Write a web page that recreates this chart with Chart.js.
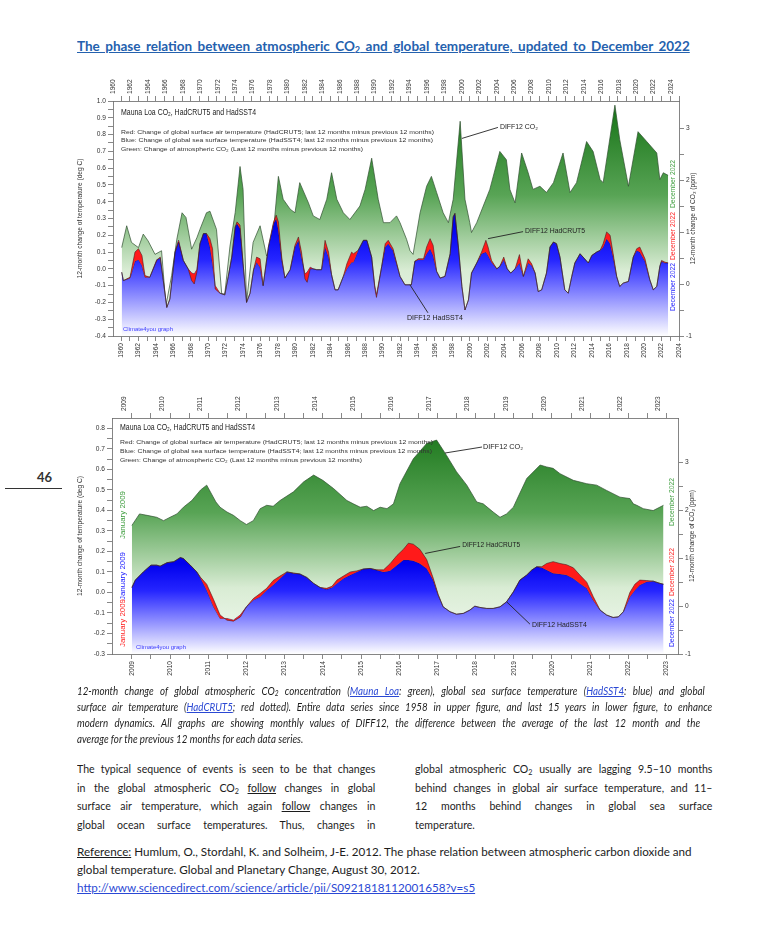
<!DOCTYPE html>
<html lang="en">
<head>
<meta charset="utf-8">
<title>Phase relation between atmospheric CO2 and global temperature</title>
<script src="https://cdn.jsdelivr.net/npm/chart.js@4.4.1/dist/chart.umd.min.js"></script>
<style>
  html, body { margin: 0; padding: 0; background: #fff; }
  body { position: relative; width: 760px; height: 937px; overflow: hidden; font-family: Lato, "Open Sans", sans-serif; color: #1c1c1c; }
  canvas { position: absolute; }
  .ln { position: absolute; white-space: nowrap; transform-origin: 0 0; }
  .j { text-align: justify; text-align-last: justify; }
  .title { font-weight: 700; font-size: 14px; line-height: 18px; color: #2461ae; text-decoration: underline; transform: scaleX(0.965); }
  .cap { font-style: italic; font-size: 10.5px; line-height: 14px; transform: scaleX(0.93); }
  .txt { font-size: 12px; line-height: 16px; transform: scaleX(0.88); }
  .ref { font-size: 12px; line-height: 16px; transform: scaleX(0.97); }
  .lk { color: #2a48d4; text-decoration: underline; }
  .u { text-decoration: underline; }
  sub { font-size: 0.68em; vertical-align: -0.2em; line-height: 0; }
</style>
</head>
<body>

<div class="ln title j" style="left:77px;top:37px;width:635px">The phase relation between atmospheric CO<sub>2</sub> and global temperature, updated to December 2022</div>

<canvas id="topChart" width="628" height="306" style="left:72px;top:66px"></canvas>
<canvas id="lowChart" width="628" height="306" style="left:72px;top:383px"></canvas>

<div class="ln" style="left:37px;top:469px;font-weight:700;font-size:13px;color:#333">46</div>
<div style="position:absolute;left:5px;top:488px;width:57px;height:1px;background:#333"></div>

<div class="ln cap j" style="left:77px;top:684px;width:675px">12-month change of global atmospheric CO<sub>2</sub> concentration (<span class="lk">Mauna Loa</span>: green), global sea surface temperature (<span class="lk">HadSST4</span>: blue) and global</div>
<div class="ln cap j" style="left:77px;top:700px;width:683px">surface air temperature (<span class="lk">HadCRUT5</span>; red dotted). Entire data series since 1958 in upper figure, and last 15 years in lower figure, to enhance</div>
<div class="ln cap j" style="left:77px;top:716px;width:670px">modern dynamics. All graphs are showing monthly values of DIFF12, the difference between the average of the last 12 month and the</div>
<div class="ln cap" style="left:77px;top:732px">average for the previous 12 months for each data series.</div>

<div class="ln txt j" style="left:77px;top:761px;width:339px">The typical sequence of events is seen to be that changes</div>
<div class="ln txt j" style="left:77px;top:780px;width:339px">in the global atmospheric CO<sub>2</sub> <span class="u">follow</span> changes in global</div>
<div class="ln txt j" style="left:77px;top:798px;width:339px">surface air temperature, which again <span class="u">follow</span> changes in</div>
<div class="ln txt j" style="left:77px;top:817px;width:339px">global ocean surface temperatures. Thus, changes in</div>

<div class="ln txt j" style="left:415px;top:761px;width:338px">global atmospheric CO<sub>2</sub> usually are lagging 9.5–10 months</div>
<div class="ln txt j" style="left:415px;top:780px;width:338px">behind changes in global air surface temperature, and 11–</div>
<div class="ln txt j" style="left:415px;top:798px;width:338px">12 months behind changes in global sea surface</div>
<div class="ln txt" style="left:415px;top:817px">temperature.</div>

<div class="ln ref" style="left:77px;top:844px"><span class="u">Reference:</span> Humlum, O., Stordahl, K. and Solheim, J-E. 2012. The phase relation between atmospheric carbon dioxide and</div>
<div class="ln ref" style="left:77px;top:862px">global temperature. Global and Planetary Change, August 30, 2012.</div>
<div class="ln ref" style="left:77px;top:880px"><span class="lk">http://www.sciencedirect.com/science/article/pii/S0921818112001658?v=s5</span></div>

<script>
// ---- upper figure: 1960-2022 ----
const topYears = [
  1960.08, 1960.27, 1961.03, 1961.6, 1962.0, 1962.4, 1962.75, 1963.3, 1964.1, 1964.5,
  1964.85, 1965.25, 1965.6, 1966.2, 1966.6, 1967.15, 1967.7, 1968.1, 1968.4, 1968.7,
  1969.05, 1969.45, 1969.8, 1970.2, 1970.5, 1970.8, 1971.35, 1971.9, 1972.3, 1972.7,
  1973.1, 1973.3, 1973.65, 1974.0, 1974.4, 1974.8, 1975.2, 1975.55, 1975.95, 1976.3,
  1976.9, 1977.5, 1977.8, 1978.05, 1978.45, 1978.8, 1979.4, 1979.95, 1980.35, 1980.7,
  1981.1, 1981.35, 1981.7, 1982.05, 1982.45, 1983.0, 1983.4, 1983.8, 1984.15, 1984.55,
  1984.9, 1985.5, 1985.9, 1986.45, 1986.65, 1987.2, 1987.8, 1988.2, 1988.75, 1989.1,
  1989.3, 1989.9, 1990.3, 1990.65, 1991.2, 1992.0, 1992.57, 1993.3, 1993.7, 1994.1,
  1994.7, 1995.05, 1995.45, 1995.8, 1996.2, 1996.6, 1997.15, 1997.75, 1998.1, 1998.3,
  1998.7, 1999.1, 1999.45, 1999.85, 2000.2, 2000.8, 2001.35, 2001.85, 2002.1, 2002.5,
  2003.1, 2003.45, 2003.9, 2004.3, 2004.7, 2005.2, 2005.7, 2006.15, 2006.7, 2007.1,
  2007.5, 2007.85, 2008.25, 2008.8, 2009.2, 2009.6, 2009.95, 2010.35, 2010.9, 2011.3,
  2011.7, 2012.05, 2012.65, 2013.0, 2013.6, 2014.0, 2014.55, 2014.95, 2015.3, 2015.7,
  2016.1, 2016.45, 2016.85, 2017.2, 2017.6, 2018.2, 2018.75, 2019.15, 2019.5, 2020.1,
  2020.65, 2021.05, 2021.45, 2021.8, 2022.0, 2022.4, 2022.75
];
const topSst = [
  -0.02, -0.07, -0.055, 0.045, 0.055, 0.02, -0.05, -0.05, 0.055, 0.065,
  -0.07, -0.23, -0.18, 0.10, 0.17, 0.05, 0.0, -0.025, -0.03, -0.005,
  0.15, 0.21, 0.21, 0.13, 0.03, -0.10, -0.145, -0.155, -0.045, 0.07,
  0.25, 0.27, 0.24, 0.03, -0.20, -0.145, -0.005, 0.04, 0.01, -0.10,
  0.13, 0.27, 0.30, 0.23, 0.05, -0.055, -0.005, 0.13, 0.17, 0.07,
  -0.03, -0.02, 0.01, 0.0, -0.005, -0.005, 0.13, 0.07, -0.035, -0.125,
  -0.125, -0.045, 0.0, 0.04, 0.04, 0.11, 0.17, 0.17, 0.07, -0.10,
  -0.155, 0.015, 0.13, 0.15, 0.11, -0.045, -0.095, -0.095, 0.045, 0.055,
  0.055, 0.09, 0.12, 0.08, -0.015, -0.055, -0.045, 0.09, 0.31, 0.33,
  0.13, -0.105, -0.245, -0.185, -0.025, 0.035, 0.09, 0.10, 0.08, 0.04,
  0.0, 0.015, 0.055, 0.0, -0.025, 0.0, 0.035, -0.045, 0.035, 0.02,
  -0.025, -0.135, -0.125, -0.025, 0.13, 0.16, 0.15, 0.07, -0.125, -0.145,
  -0.045, 0.035, 0.09, 0.07, 0.035, 0.08, 0.10, 0.11, 0.13, 0.18,
  0.15, 0.07, -0.045, -0.105, -0.085, -0.075, 0.07, 0.11, 0.10, 0.045,
  -0.065, -0.125, -0.105, 0.015, 0.045, 0.035, 0.035
];
const topHadcrut = [
  -0.02, -0.07, -0.05, 0.10, 0.12, 0.08, -0.04, -0.05, 0.05, 0.07,
  -0.07, -0.23, -0.18, 0.10, 0.16, 0.05, 0.0, -0.07, -0.09, -0.02,
  0.15, 0.21, 0.21, 0.18, 0.12, -0.12, -0.145, -0.155, -0.045, 0.07,
  0.25, 0.28, 0.26, 0.03, -0.20, -0.145, -0.005, 0.07, 0.06, -0.10,
  0.13, 0.28, 0.32, 0.28, 0.06, -0.055, -0.005, 0.14, 0.19, 0.10,
  -0.06, -0.08, 0.0, 0.0, -0.005, -0.005, 0.17, 0.10, -0.035, -0.125,
  -0.125, -0.045, 0.03, 0.10, 0.09, 0.11, 0.17, 0.17, 0.07, -0.11,
  -0.17, 0.015, 0.15, 0.17, 0.12, -0.045, -0.095, -0.095, 0.045, 0.06,
  0.06, 0.13, 0.18, 0.14, -0.015, -0.055, -0.045, 0.09, 0.31, 0.33,
  0.13, -0.105, -0.245, -0.185, -0.025, 0.035, 0.10, 0.17, 0.13, 0.05,
  0.0, 0.015, 0.07, 0.0, -0.025, 0.0, 0.085, -0.045, 0.06, 0.03,
  -0.025, -0.135, -0.125, -0.025, 0.13, 0.16, 0.15, 0.07, -0.125, -0.145,
  -0.045, 0.035, 0.09, 0.07, 0.035, 0.08, 0.10, 0.11, 0.15, 0.22,
  0.20, 0.09, -0.045, -0.105, -0.085, -0.075, 0.07, 0.12, 0.13, 0.06,
  -0.065, -0.125, -0.105, 0.015, 0.05, 0.04, 0.035
];
const topCo2Years = [
  1960.08, 1960.65, 1961.2, 1962.0, 1962.55, 1963.1, 1963.9, 1964.65, 1965.15, 1965.8,
  1966.4, 1967.0, 1967.45, 1968.1, 1968.7, 1969.05, 1969.8, 1970.2, 1970.95, 1971.55,
  1971.9, 1972.5, 1973.1, 1973.65, 1974.0, 1974.4, 1975.15, 1975.95, 1976.7, 1977.3,
  1978.05, 1978.6, 1979.4, 1979.95, 1980.5, 1981.5, 1982.05, 1982.8, 1983.6, 1984.15,
  1984.75, 1985.5, 1986.25, 1987.4, 1988.0, 1988.75, 1989.5, 1990.1, 1990.85, 1991.6,
  1992.0, 1992.75, 1993.15, 1993.5, 1994.3, 1995.05, 1995.6, 1996.2, 1996.95, 1997.55,
  1998.1, 1998.9, 1999.45, 2000.0, 2000.2, 2000.8, 2001.55, 2002.3, 2003.45, 2004.2,
  2004.6, 2005.2, 2005.95, 2006.7, 2007.25, 2008.05, 2008.8, 2009.6, 2010.7, 2011.5,
  2012.25, 2013.4, 2014.15, 2014.95, 2015.3, 2016.65, 2017.2, 2018.2, 2019.3, 2020.3,
  2021.45, 2021.8, 2022.2, 2022.75
];
const topCo2 = [
  0.70, 1.12, 0.80, 0.70, 0.96, 0.83, 0.57, 0.64, -0.42, 0.16,
  0.86, 1.37, 1.28, 0.67, 0.89, 1.05, 1.37, 1.40, 1.05, -0.19,
  -0.19, 0.73, 1.38, 2.26, 1.82, -0.35, 0.80, 1.12, 0.54, 0.67,
  2.07, 1.63, 1.44, 1.37, 1.95, 1.56, 1.31, 1.24, 1.63, 2.14,
  1.63, 1.37, 1.24, 1.50, 1.82, 2.42, 1.63, 1.18, 1.18, 1.31,
  1.18, 0.86, 0.64, 0.57, 1.37, 1.88, 2.07, 1.76, 1.37, 1.18,
  1.63, 3.13, 1.63, 1.18, 0.99, 1.18, 1.50, 1.82, 2.55, 2.39,
  1.82, 1.56, 2.52, 2.14, 1.82, 1.88, 1.76, 1.95, 2.52, 1.76,
  1.95, 2.74, 2.55, 2.01, 1.95, 3.44, 2.78, 1.88, 2.93, 2.74,
  2.52, 2.01, 2.14, 2.09
];

// ---- lower figure: 2009-2022 ----
const lowYears = [
  2009.0, 2009.09, 2009.3, 2009.5, 2009.65, 2009.74, 2009.92, 2010.1, 2010.27, 2010.35,
  2010.53, 2010.7, 2010.79, 2010.96, 2011.14, 2011.31, 2011.49, 2011.66, 2011.84, 2012.0,
  2012.18, 2012.36, 2012.53, 2012.7, 2012.88, 2013.06, 2013.23, 2013.4, 2013.58, 2013.76,
  2013.93, 2014.1, 2014.24, 2014.37, 2014.54, 2014.72, 2014.89, 2015.06, 2015.24, 2015.41,
  2015.59, 2015.76, 2015.94, 2016.11, 2016.24, 2016.37, 2016.54, 2016.72, 2016.89, 2017.02,
  2017.15, 2017.33, 2017.5, 2017.68, 2017.85, 2017.98, 2018.11, 2018.29, 2018.46, 2018.64,
  2018.81, 2018.99, 2019.16, 2019.34, 2019.47, 2019.6, 2019.73, 2019.86, 2020.03, 2020.21,
  2020.38, 2020.56, 2020.73, 2020.91, 2021.08, 2021.26, 2021.43, 2021.6, 2021.74, 2021.87,
  2022.04, 2022.17, 2022.3, 2022.48, 2022.65, 2022.83, 2022.92
];
const lowSst = [
  0.024, 0.06, 0.10, 0.133, 0.133, 0.128, 0.145, 0.15, 0.17, 0.165,
  0.133, 0.10, 0.073, 0.011, -0.07, -0.127, -0.127, -0.135, -0.11, -0.07,
  -0.037, -0.021, 0.011, 0.036, 0.068, 0.10, 0.093, 0.09, 0.073, 0.044,
  0.024, 0.015, 0.024, 0.044, 0.068, 0.085, 0.10, 0.114, 0.117, 0.109,
  0.10, 0.106, 0.133, 0.158, 0.158, 0.154, 0.141, 0.117, 0.06, -0.013,
  -0.07, -0.094, -0.106, -0.102, -0.086, -0.067, -0.073, -0.078, -0.078, -0.07,
  -0.046, 0.003, 0.06, 0.085, 0.109, 0.125, 0.122, 0.109, 0.093, 0.09,
  0.085, 0.068, 0.044, 0.02, -0.037, -0.086, -0.11, -0.122, -0.119, -0.094,
  -0.021, 0.011, 0.036, 0.052, 0.055, 0.044, 0.04
];
const lowHadcrut = [
  0.024, 0.06, 0.10, 0.133, 0.133, 0.128, 0.145, 0.15, 0.17, 0.165,
  0.133, 0.10, 0.075, 0.04, -0.035, -0.11, -0.135, -0.14, -0.12, -0.07,
  -0.03, -0.005, 0.02, 0.058, 0.08, 0.10, 0.095, 0.09, 0.073, 0.044,
  0.024, 0.02, 0.03, 0.06, 0.08, 0.10, 0.105, 0.114, 0.117, 0.11,
  0.11, 0.14, 0.18, 0.21, 0.24, 0.235, 0.21, 0.16, 0.07, -0.01,
  -0.07, -0.094, -0.106, -0.102, -0.086, -0.067, -0.073, -0.078, -0.078, -0.07,
  -0.046, 0.003, 0.06, 0.085, 0.109, 0.125, 0.125, 0.141, 0.15, 0.141,
  0.135, 0.12, 0.085, 0.05, -0.02, -0.086, -0.11, -0.122, -0.119, -0.094,
  0.0, 0.04, 0.06, 0.058, 0.055, 0.044, 0.04
];
const lowCo2Years = [
  2009.0, 2009.2, 2009.4, 2009.65, 2009.83, 2010.0, 2010.18, 2010.35, 2010.57, 2010.8,
  2010.96, 2011.2, 2011.31, 2011.49, 2011.66, 2011.84, 2012.0, 2012.18, 2012.36, 2012.53,
  2012.7, 2012.88, 2013.23, 2013.5, 2013.76, 2014.0, 2014.28, 2014.63, 2014.8, 2014.98,
  2015.15, 2015.33, 2015.5, 2015.68, 2015.85, 2016.02, 2016.37, 2016.72, 2016.98, 2017.24,
  2017.5, 2017.77, 2018.03, 2018.2, 2018.46, 2018.64, 2018.81, 2018.99, 2019.07, 2019.34,
  2019.69, 2019.86, 2020.03, 2020.21, 2020.56, 2020.91, 2021.17, 2021.43, 2021.78, 2022.04,
  2022.13, 2022.22, 2022.39, 2022.65, 2022.92
];
const lowCo2 = [
  1.68, 1.92, 1.89, 1.85, 1.78, 1.85, 1.92, 2.06, 2.20, 2.42,
  2.52, 2.17, 2.06, 1.96, 1.89, 1.78, 1.70, 1.78, 2.03, 2.10,
  2.08, 2.20, 2.38, 2.59, 2.73, 2.62, 2.45, 2.20, 2.13, 2.06,
  2.08, 1.99, 2.06, 2.03, 2.13, 2.55, 3.07, 3.39, 3.46, 3.14,
  2.80, 2.52, 2.17, 2.13, 1.96, 1.85, 1.92, 2.06, 2.20, 2.66,
  2.94, 2.90, 2.87, 2.76, 2.62, 2.55, 2.52, 2.41, 2.27, 2.24,
  2.13, 2.10, 2.03, 1.99, 2.10
];

// ---- tick labels ----
const topYearLabels = [1960, 1962, 1964, 1966, 1968, 1970, 1972, 1974, 1976, 1978, 1980, 1982, 1984,
  1986, 1988, 1990, 1992, 1994, 1996, 1998, 2000, 2002, 2004, 2006, 2008, 2010, 2012, 2014, 2016,
  2018, 2020, 2022, 2024];
const lowYearLabels = [2009, 2010, 2011, 2012, 2013, 2014, 2015, 2016, 2017, 2018, 2019, 2020, 2021, 2022, 2023];
const topTempLabels = [-0.4, -0.3, -0.2, -0.1, 0.0, 0.1, 0.2, 0.3, 0.4, 0.5, 0.6, 0.7, 0.8, 0.9, 1.0];
const lowTempLabels = [-0.3, -0.2, -0.1, 0.0, 0.1, 0.2, 0.3, 0.4, 0.5, 0.6, 0.7, 0.8];
const co2Labels = [-1, 0, 1, 2, 3];

const FONT = '"Liberation Sans", Arial, sans-serif';

function pts(xs, ys) {
  return xs.map(function (x, i) { return { x: x, y: ys[i] }; });
}

function withMinor(labels) {
  var out = [];
  labels.forEach(function (v, i) {
    out.push(v);
    if (i < labels.length - 1) out.push((v + labels[i + 1]) / 2);
  });
  return out;
}

function isLabel(labels, v) {
  return labels.some(function (l) { return Math.abs(l - v) < 1e-6; });
}

function axis(position, min, max, labels, fmt, size, extra) {
  var vertical = position === "left" || position === "right";
  return Object.assign({
    type: "linear",
    position: position,
    min: min,
    max: max,
    afterBuildTicks: function (s) {
      s.ticks = withMinor(labels).filter(function (v) { return v >= min && v <= max; })
        .map(function (v) { return { value: v }; });
    },
    afterFit: function (s) {
      if (vertical) s.width = size; else s.height = size;
    },
    grid: { drawOnChartArea: false, drawTicks: true, tickLength: 5, color: "#555", lineWidth: 0.7 },
    border: { display: true, color: "#666", width: 0.8 },
    ticks: {
      autoSkip: false,
      padding: 2,
      color: "#333",
      font: { family: FONT, size: 6.6 },
      minRotation: vertical ? 0 : 90,
      maxRotation: vertical ? 0 : 90,
      callback: function (v) { return isLabel(labels, v) ? fmt(v) : ""; },
    },
  }, extra || {});
}

function fmtTemp(v) { return Math.abs(v) < 1e-9 ? "0.0" : v.toFixed(1); }
function fmtInt(v) { return String(Math.round(v)); }

function greenFill(c) {
  var ca = c.chart.chartArea;
  if (!ca) return "rgba(0,0,0,0)";
  var g = c.chart.ctx.createLinearGradient(0, ca.top, 0, ca.bottom);
  g.addColorStop(0, "#137013");
  g.addColorStop(0.4, "#58a455");
  g.addColorStop(0.72, "#d9ecd4");
  g.addColorStop(1, "#f6fbf5");
  return g;
}

function blueFill(topValue) {
  return function (c) {
    var chart = c.chart, ca = chart.chartArea;
    if (!ca || !chart.scales.y) return "rgba(0,0,0,0)";
    var y0 = chart.scales.y.getPixelForValue(topValue);
    var g = chart.ctx.createLinearGradient(0, y0, 0, ca.bottom);
    g.addColorStop(0, "#0000ee");
    g.addColorStop(0.3, "#2525ff");
    g.addColorStop(1, "#ffffff");
    return g;
  };
}

function drawText(ctx, text, x, y, size, width, color, rotate, center) {
  ctx.save();
  ctx.font = size + "px " + FONT;
  ctx.fillStyle = color;
  ctx.textBaseline = "middle";
  ctx.translate(x, y);
  if (rotate) ctx.rotate(-Math.PI / 2);
  if (width) ctx.scale(width / ctx.measureText(text).width, 1);
  ctx.textAlign = center ? "center" : "left";
  ctx.fillText(text, 0, 0);
  ctx.restore();
}

function decor(d) {
  return {
    id: "decor",
    afterDraw: function (chart) {
      var ctx = chart.ctx, ca = chart.chartArea, s = chart.scales;
      drawText(ctx, "Mauna Loa CO\u2082, HadCRUT5 and HadSST4", ca.left + 8, ca.top + d.headY, 9, 135, "#222");
      d.legendY.forEach(function (y, i) {
        drawText(ctx, d.legend[i], ca.left + 8, ca.top + y, 6.2, d.legendW[i], "#333");
      });
      drawText(ctx, "Climate4you graph", ca.left + d.creditX, ca.bottom - 7, 6, 50, "#3a3aff");
      d.side.forEach(function (l) {
        var x = l.left ? ca.left + 11 : ca.right - 6;
        drawText(ctx, l.text, x, ca.top + l.cy, 6.5, 48, l.color, true, true);
      });
      drawText(ctx, "12-month change of CO\u2082 (ppm)", ca.right + 14, (ca.top + ca.bottom) / 2, 6.6, 0, "#333", true, true);
      d.notes.forEach(function (n) {
        var x0 = s.x.getPixelForValue(n.x), y0 = s[n.axis].getPixelForValue(n.y);
        ctx.save();
        ctx.strokeStyle = "#222";
        ctx.lineWidth = 0.9;
        ctx.beginPath();
        ctx.moveTo(x0, y0);
        ctx.lineTo(x0 + n.dx, y0 + n.dy);
        ctx.stroke();
        ctx.restore();
        drawText(ctx, n.text, x0 + n.tx, y0 + n.ty, 6.5, n.w, "#222");
      });
    },
  };
}

var legendText = [
  "Red: Change of global surface air temperature (HadCRUT5; last 12 months minus previous 12 months)",
  "Blue: Change of global sea surface temperature (HadSST4; last 12 months minus previous 12 months)",
  "Green: Change of atmospheric CO\u2082 (Last 12 months minus previous 12 months)",
];

function buildChart(id, cfg) {
  return new Chart(document.getElementById(id), {
    type: "line",
    data: {
      datasets: [
        {
          label: "DIFF12 HadCRUT5",
          data: pts(cfg.years, cfg.hadcrut),
          xAxisID: "x", yAxisID: "y",
          fill: 1,
          backgroundColor: "#ff1a1a",
          borderColor: "#4a1c1c",
          borderWidth: 0.6,
        },
        {
          label: "DIFF12 HadSST4",
          data: pts(cfg.years, cfg.sst),
          xAxisID: "x", yAxisID: "y",
          fill: "start",
          backgroundColor: blueFill(cfg.blueTop),
          borderColor: "#1c1c3c",
          borderWidth: 0.6,
        },
        {
          label: "DIFF12 CO2",
          data: pts(cfg.co2Years, cfg.co2),
          xAxisID: "x", yAxisID: "y2",
          fill: "start",
          backgroundColor: greenFill,
          borderColor: "#2f4f2f",
          borderWidth: 0.7,
        },
      ],
    },
    options: {
      responsive: false,
      devicePixelRatio: 1,
      animation: false,
      layout: { padding: 0 },
      elements: { point: { radius: 0 }, line: { tension: 0, borderJoinStyle: "round" } },
      plugins: { legend: { display: false }, tooltip: { enabled: false } },
      scales: {
        x: axis("bottom", cfg.xMin, cfg.xMax, cfg.yearLabels, fmtInt, cfg.bottomH),
        x2: axis("top", cfg.xMin, cfg.xMax, cfg.yearLabels, fmtInt, cfg.topH),
        y: axis("left", cfg.yMin, cfg.yMax, cfg.tempLabels, fmtTemp, cfg.leftW, {
          title: {
            display: true,
            text: "12-month change of temperature (deg C)",
            color: "#333",
            font: { family: FONT, size: 6.6 },
            padding: { top: 4, bottom: 0 },
          },
        }),
        y2: axis("right", -1, cfg.co2Max, co2Labels, fmtInt, cfg.rightW),
      },
    },
    plugins: [decor(cfg.decor)],
  });
}

buildChart("topChart", {
  years: topYears, sst: topSst, hadcrut: topHadcrut,
  co2Years: topCo2Years, co2: topCo2,
  xMin: 1959.08, xMax: 2024.0, yMin: -0.4, yMax: 1.0, co2Max: 3.52,
  yearLabels: topYearLabels, tempLabels: topTempLabels,
  blueTop: 0.25,
  leftW: 41, rightW: 21, topH: 35, bottomH: 36,
  decor: {
    headY: 12, legend: legendText, legendY: [31, 39, 48], legendW: [313, 312, 242],
    creditX: 10,
    side: [
      { text: "December 2022", color: "#1a1aff", cy: 186 },
      { text: "December 2022", color: "#ff2020", cy: 135 },
      { text: "December 2022", color: "#3c9c3c", cy: 83 },
    ],
    notes: [
      { axis: "y2", x: 1999.1, y: 2.8, dx: 36, dy: -11, tx: 38, ty: -11, text: "DIFF12 CO\u2082", w: 38 },
      { axis: "y", x: 2002.1, y: 0.18, dx: 35, dy: -7, tx: 37, ty: -7, text: "DIFF12 HadCRUT5", w: 60 },
      { axis: "y", x: 1993.14, y: -0.095, dx: 18, dy: 28, tx: -3, ty: 33, text: "DIFF12 HadSST4", w: 56 },
    ],
  },
});

buildChart("lowChart", {
  years: lowYears, sst: lowSst, hadcrut: lowHadcrut,
  co2Years: lowCo2Years, co2: lowCo2,
  xMin: 2008.48, xMax: 2023.3, yMin: -0.3, yMax: 0.85, co2Max: 3.92,
  yearLabels: lowYearLabels, tempLabels: lowTempLabels,
  blueTop: 0.14,
  leftW: 40, rightW: 22, topH: 35, bottomH: 35,
  decor: {
    headY: 10, legend: legendText, legendY: [24, 33, 42], legendW: [313, 312, 242],
    creditX: 24,
    side: [
      { text: "December 2022", color: "#1a1aff", cy: 205 },
      { text: "December 2022", color: "#ff2020", cy: 154 },
      { text: "December 2022", color: "#3c9c3c", cy: 84 },
      { text: "January 2009", color: "#3c9c3c", cy: 97, left: true },
      { text: "January 2009", color: "#1a1aff", cy: 158, left: true },
      { text: "January 2009", color: "#ff2020", cy: 205, left: true },
    ],
    notes: [
      { axis: "y2", x: 2017.2, y: 3.19, dx: 37, dy: -6, tx: 38, ty: -6, text: "DIFF12 CO\u2082", w: 40 },
      { axis: "y", x: 2016.68, y: 0.19, dx: 35, dy: -7, tx: 37, ty: -8, text: "DIFF12 HadCRUT5", w: 58 },
      { axis: "y", x: 2018.82, y: -0.047, dx: 23, dy: 22, tx: 25, ty: 23, text: "DIFF12 HadSST4", w: 55 },
    ],
  },
});
</script>
</body>
</html>
